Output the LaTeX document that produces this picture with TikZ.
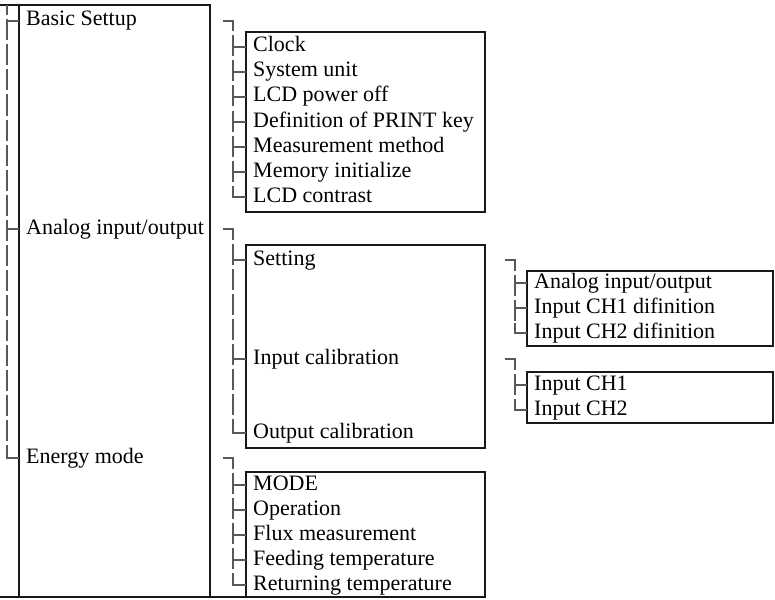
\documentclass[tikz,border=0pt]{standalone}
\usepackage{fontspec}
\setmainfont{Liberation Serif}
\begin{document}
\begin{tikzpicture}[x=1pt, y=-1pt, item/.style={anchor=west, inner xsep=7pt, inner ysep=0pt, text height=15pt, text depth=5pt, font=\fontsize{22}{24}\selectfont}, frame/.style={draw=black!90, line width=1.6pt}, trunk/.style={draw=black!65, line width=1.2pt, dash pattern=on 21pt off 4pt, dash phase=10.5pt}, tick/.style={draw=black!65, line width=1.2pt}]
      \useasboundingbox (0,0) rectangle (775,599);
      \draw[frame] (0,5) -- (210,5) -- (210,597);
      \draw[frame] (19,5) -- (19,597);
      \draw[frame] (0,597) -- (485,597);
      \draw[frame] (246,32) rectangle (485,212);
      \draw[frame] (246,245) rectangle (485,448);
      \draw[frame] (527,271) rectangle (773,346);
      \draw[frame] (527,372) rectangle (773,423);
      \draw[frame] (246,472) rectangle (485,597);

      \node[item] (basic) at (19,21) {Basic Settup};
      \node[item] (analog) at (19,229) {Analog input/output};
      \node[item] (energy) at (19,458) {Energy mode};

      \node[item] (clock) at (246,47) {Clock};
      \node[item] (unit) at (246,72) {System unit};
      \node[item] (lcdoff) at (246,97) {LCD power off};
      \node[item] (printkey) at (246,122) {Definition of PRINT key};
      \node[item] (method) at (246,147) {Measurement method};
      \node[item] (meminit) at (246,172) {Memory initialize};
      \node[item] (contrast) at (246,197) {LCD contrast};

      \node[item] (setting) at (246,260) {Setting};
      \node[item] (incal) at (246,359) {Input calibration};
      \node[item] (outcal) at (246,433) {Output calibration};

      \node[item] (aio) at (527,283) {Analog input/output};
      \node[item] (ch1def) at (527,308) {Input CH1 difinition};
      \node[item] (ch2def) at (527,333) {Input CH2 difinition};

      \node[item] (ch1) at (527,385) {Input CH1};
      \node[item] (ch2) at (527,410) {Input CH2};

      \node[item] (mode) at (246,485) {MODE};
      \node[item] (operation) at (246,510) {Operation};
      \node[item] (flux) at (246,535) {Flux measurement};
      \node[item] (feeding) at (246,560) {Feeding temperature};
      \node[item] (returning) at (246,585) {Returning temperature};

      \coordinate (root) at (7,5);
      \coordinate (basicup) at (233,21);
      \coordinate (analogup) at (233,229);
      \coordinate (settingup) at (515,260);
      \coordinate (incalup) at (515,359);
      \coordinate (energyup) at (233,458);

      \draw[trunk] (root) -- (root |- energy.west);
      \draw[tick] (root |- basic.west) -- (basic.west);
      \draw[tick] (root |- analog.west) -- (analog.west);
      \draw[tick] (root |- energy.west) ++(0,-10) |- (energy.west);

      \draw[tick] (basicup) ++(-10,0) -- (basicup) -- ++(0,10);
      \draw[trunk] (basicup) -- (basicup |- contrast.west);
      \draw[tick] (basicup |- clock.west) -- (clock.west);
      \draw[tick] (basicup |- unit.west) -- (unit.west);
      \draw[tick] (basicup |- lcdoff.west) -- (lcdoff.west);
      \draw[tick] (basicup |- printkey.west) -- (printkey.west);
      \draw[tick] (basicup |- method.west) -- (method.west);
      \draw[tick] (basicup |- meminit.west) -- (meminit.west);
      \draw[tick] (basicup |- contrast.west) ++(0,-10) |- (contrast.west);

      \draw[tick] (analogup) ++(-10,0) -- (analogup) -- ++(0,10);
      \draw[trunk] (analogup) -- (analogup |- outcal.west);
      \draw[tick] (analogup |- setting.west) -- (setting.west);
      \draw[tick] (analogup |- incal.west) -- (incal.west);
      \draw[tick] (analogup |- outcal.west) ++(0,-10) |- (outcal.west);

      \draw[tick] (settingup) ++(-10,0) -- (settingup) -- ++(0,10);
      \draw[trunk] (settingup) -- (settingup |- ch2def.west);
      \draw[tick] (settingup |- aio.west) -- (aio.west);
      \draw[tick] (settingup |- ch1def.west) -- (ch1def.west);
      \draw[tick] (settingup |- ch2def.west) ++(0,-10) |- (ch2def.west);

      \draw[tick] (incalup) ++(-10,0) -- (incalup) -- ++(0,10);
      \draw[trunk] (incalup) -- (incalup |- ch2.west);
      \draw[tick] (incalup |- ch1.west) -- (ch1.west);
      \draw[tick] (incalup |- ch2.west) ++(0,-10) |- (ch2.west);

      \draw[tick] (energyup) ++(-10,0) -- (energyup) -- ++(0,10);
      \draw[trunk] (energyup) -- (energyup |- returning.west);
      \draw[tick] (energyup |- mode.west) -- (mode.west);
      \draw[tick] (energyup |- operation.west) -- (operation.west);
      \draw[tick] (energyup |- flux.west) -- (flux.west);
      \draw[tick] (energyup |- feeding.west) -- (feeding.west);
      \draw[tick] (energyup |- returning.west) ++(0,-10) |- (returning.west);
    \end{tikzpicture}
\end{document}
